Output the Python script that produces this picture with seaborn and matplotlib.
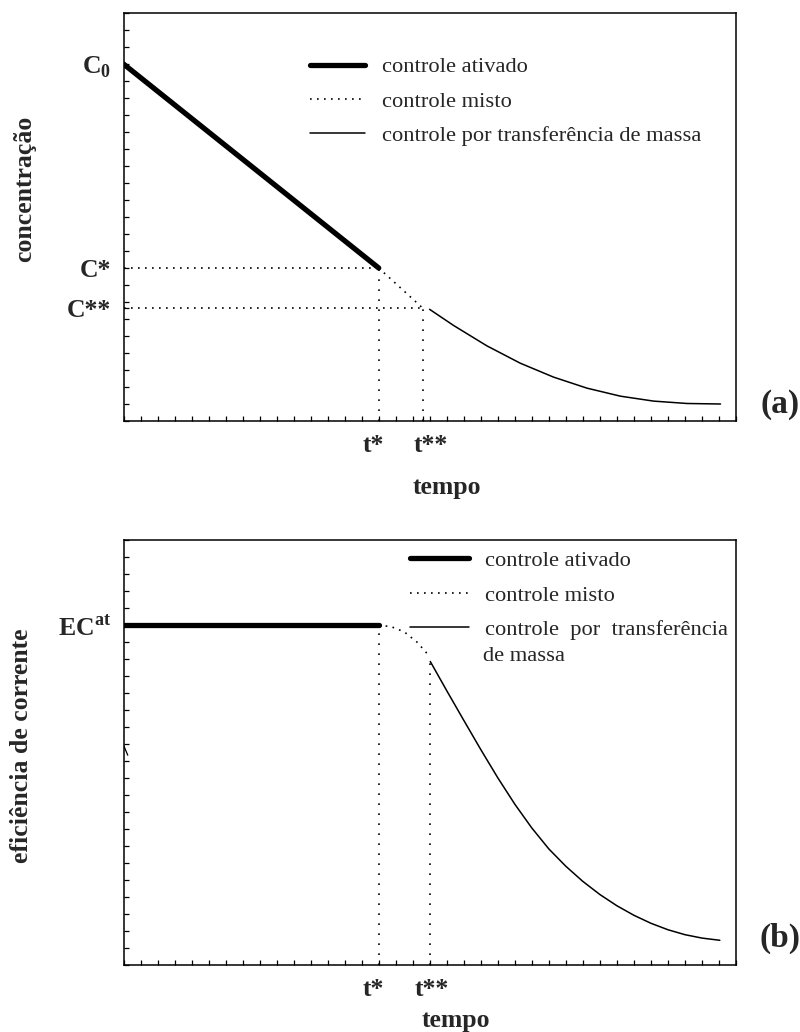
import numpy as np
import pandas as pd
import matplotlib
matplotlib.use("Agg")
import matplotlib.pyplot as plt
import matplotlib.transforms as mtrans
import seaborn as sns
from matplotlib.ticker import MultipleLocator

sns.set_style("white")
plt.rcParams['font.family'] = ['Liberation Serif', 'DejaVu Serif']
plt.rcParams['mathtext.fontset'] = 'custom'
plt.rcParams['mathtext.rm'] = 'Liberation Serif'
plt.rcParams['mathtext.bf'] = 'Liberation Serif:bold'

# ---------------- data: panel (a) concentração ----------------
a_ativ_t = [0.0, 15.0]
a_ativ_c = [21.0, 9.0]
a_misto_t = [15.0, 17.6]
a_misto_c = [9.0, 6.63]
a_mt_t = [17.99, 19.40, 21.36, 23.32, 25.28, 27.25, 29.21, 31.16, 33.13, 35.09]
a_mt_c = [6.57, 5.62, 4.42, 3.40, 2.58, 1.93, 1.46, 1.17, 1.03, 1.00]
a_tstar, a_tstar2 = 15.0, 17.6
a_C0, a_Cstar, a_Cstar2 = 21.0, 9.0, 6.63
a_xlim, a_ylim = 36.0, 24.0

# ---------------- data: panel (b) eficiência de corrente ----------------
b_ativ_t = [0.0, 15.0]
b_ativ_e = [20.0, 20.0]
b_misto_t = [15.0, 15.75, 16.5, 17.25, 18.0]
b_misto_e = [20.0, 19.9, 19.6, 19.0, 18.15]
b_mt_t = [18.03, 19.0, 20.0, 21.0, 22.0, 23.0, 24.0, 25.0, 26.0, 27.0,
          28.0, 29.0, 30.0, 31.0, 32.0, 33.0, 34.0, 35.05]
b_mt_e = [17.86, 16.14, 14.40, 12.68, 11.02, 9.47, 8.07, 6.84, 5.82, 4.93,
          4.16, 3.50, 2.94, 2.47, 2.09, 1.80, 1.60, 1.47]
b_stray_t = [0.0, 0.25]
b_stray_e = [12.95, 12.35]
b_tstar, b_tstar2 = 15.0, 18.0
b_EC = 20.0
b_xlim, b_ylim = 36.0, 25.0

leg_labels = ["controle ativado", "controle misto", "controle por transferência de massa"]
leg_labels_b = ["controle ativado", "controle misto", "controle  por  transferência"]

fig = plt.figure(figsize=(8.0, 10.32), dpi=100)
W, H = 800.0, 1032.0
axA = fig.add_axes([123.5 / W, 1 - 421 / H, 612.5 / W, 408 / H])
axB = fig.add_axes([123.5 / W, 1 - 965.3 / H, 612.5 / W, 425.3 / H])

DOT_H = (0, (1, 3.2))
DOT_V = (0, (1, 5))
TICKFS = 18.5
LEGFS = 16.2


def style_axes(ax, xlim, ylim):
    ax.set_xlim(0, xlim)
    ax.set_ylim(0, ylim)
    for s in ax.spines.values():
        s.set_linewidth(1.1)
        s.set_color('black')
    ax.xaxis.set_minor_locator(MultipleLocator(1))
    ax.yaxis.set_minor_locator(MultipleLocator(1))
    ax.tick_params(which='both', direction='in', top=False, right=False,
                   bottom=True, left=True, color='black', width=0.9)
    ax.tick_params(which='minor', length=3.5)
    ax.tick_params(which='major', length=3.5, pad=9)
    for lab in ax.get_xticklabels() + ax.get_yticklabels():
        lab.set_fontweight('bold')
        lab.set_fontsize(TICKFS)


def shift_xlabels(ax, shifts_px):
    for lab, dx in zip(ax.get_xticklabels(), shifts_px):
        off = mtrans.ScaledTranslation(dx / 100.0, 0, fig.dpi_scale_trans)
        lab.set_transform(lab.get_transform() + off)


def draw(ax, d):
    sns.lineplot(x=d['ativ_t'], y=d['ativ_y'], ax=ax, color='black', lw=3.8,
                 solid_capstyle='round', estimator=None, sort=False, label=d['labels'][0])
    sns.lineplot(x=d['misto_t'], y=d['misto_y'], ax=ax, color='black', lw=1.2,
                 linestyle=DOT_H, estimator=None, sort=False, label=d['labels'][1])
    sns.lineplot(x=d['mt_t'], y=d['mt_y'], ax=ax, color='black', lw=1.1,
                 estimator=None, sort=False, label=d['labels'][2])


# ----- panel (a)
draw(axA, dict(ativ_t=a_ativ_t, ativ_y=a_ativ_c, misto_t=a_misto_t, misto_y=a_misto_c,
               mt_t=a_mt_t, mt_y=a_mt_c, labels=leg_labels))
axA.plot([0, a_tstar], [a_Cstar, a_Cstar], color='black', lw=1.2, ls=DOT_H)
axA.plot([0, a_tstar2], [a_Cstar2, a_Cstar2], color='black', lw=1.2, ls=DOT_H)
axA.plot([a_tstar, a_tstar], [0, a_Cstar], color='black', lw=1.2, ls=DOT_V)
axA.plot([a_tstar2, a_tstar2], [0, a_Cstar2], color='black', lw=1.2, ls=DOT_V)
axA.set_xticks([a_tstar, a_tstar2], ["t*", "t**"])
axA.set_yticks([a_Cstar2, a_Cstar, a_C0], ["C**", "C*", r"C$_\mathbf{0}$"])
style_axes(axA, a_xlim, a_ylim)
shift_xlabels(axA, [-5, 8])
axA.set_xlabel("tempo", fontsize=TICKFS, fontweight='bold', ha='center', va='center')
axA.xaxis.set_label_coords(0.528, -0.162)
axA.set_ylabel("concentração", fontsize=TICKFS, fontweight='bold', ha='center', va='center')
axA.yaxis.set_label_coords(-0.161, 0.569)
legA = axA.legend(loc='upper left', bbox_to_anchor=(0.3045, 0.893), frameon=False,
                  fontsize=LEGFS, handlelength=2.45, handletextpad=0.75,
                  labelspacing=0.60, borderpad=0, borderaxespad=0)

# ----- panel (b)
draw(axB, dict(ativ_t=b_ativ_t, ativ_y=b_ativ_e, misto_t=b_misto_t, misto_y=b_misto_e,
               mt_t=b_mt_t, mt_y=b_mt_e, labels=leg_labels_b))
axB.plot(b_stray_t, b_stray_e, color='black', lw=0.9)
axB.plot([b_tstar, b_tstar], [0, b_EC], color='black', lw=1.2, ls=DOT_V)
axB.plot([b_tstar2, b_tstar2], [0, b_mt_e[0]], color='black', lw=1.2, ls=DOT_V)
axB.set_xticks([b_tstar, b_tstar2], ["t*", "t**"])
axB.set_yticks([b_EC], [r"EC$^\mathbf{at}$"])
style_axes(axB, b_xlim, b_ylim)
shift_xlabels(axB, [-5, 2])
axB.set_xlabel("tempo", fontsize=TICKFS, fontweight='bold', ha='center', va='center')
axB.xaxis.set_label_coords(0.543, -0.129)
axB.set_ylabel("eficiência de corrente", fontsize=TICKFS, fontweight='bold',
               ha='center', va='center')
axB.yaxis.set_label_coords(-0.166, 0.516)
legB = axB.legend(loc='upper left', bbox_to_anchor=(0.4678, 0.976), frameon=False,
                  fontsize=LEGFS, handlelength=2.6, handletextpad=0.75,
                  labelspacing=0.62, borderpad=0, borderaxespad=0)
axB.text(0.587, 0.727, "de massa", transform=axB.transAxes, fontsize=LEGFS,
         ha='left', va='center')

# panel tags
fig.text(780 / W, 1 - 404 / H, "(a)", fontsize=24, fontweight='bold', ha='center', va='center')
fig.text(780 / W, 1 - 938 / H, "(b)", fontsize=24, fontweight='bold', ha='center', va='center')

fig.savefig("out.png", dpi=100, facecolor='white')
